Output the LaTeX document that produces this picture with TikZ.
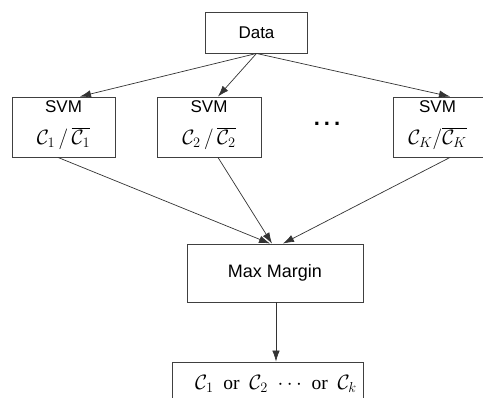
\documentclass[tikz,border=0pt]{standalone}
\usepackage{fontspec}
\setmainfont{Liberation Sans}
\newfontfamily\orfont{Liberation Serif}
\usetikzlibrary{arrows.meta,calc}
\tikzset{
  box/.style={draw=black!75, line width=0.9pt, inner sep=0pt, anchor=center},
  lbl/.style={font=\fontsize{17}{20}\selectfont, inner sep=0pt},
  mth/.style={font=\fontsize{20.5}{22}\selectfont, inner sep=0pt},
  link/.style={draw=black!80, line width=0.7pt, -{Latex[length=11pt,width=7.5pt]}}
}
\begin{document}
\begin{tikzpicture}[x=1pt,y=-1pt]
\useasboundingbox (0,0) rectangle (483,398);
\clip (0,0) rectangle (483,398);
\fill[white] (0,0) rectangle (483,398);

% top data box
\node[box, minimum width=102pt, minimum height=41pt, font=\fontsize{17}{20}\selectfont] (data) at (256.5,32.5) {Data};

% one-vs-rest SVM boxes
\node[box, minimum width=103pt, minimum height=60pt] (svm1) at (63.5,127) {};
\node[box, minimum width=104pt, minimum height=60pt] (svm2) at (209,127) {};
\node[box, minimum width=103pt, minimum height=60pt] (svm3) at (444.5,127) {};

\node[lbl] (s1) at ([yshift=-10.5pt]svm1.north) {SVM};
\node[lbl] (s2) at ([yshift=-10.5pt]svm2.north) {SVM};
\node[lbl] (s3) at ([yshift=-10.5pt]svm3.north -| 437.5,0) {SVM};
\node[mth] (c1) at ([yshift=-42pt]svm1.north) {$\mathcal{C}_1\,/\,\overline{\mathcal{C}_1}$};
\node[mth] (c2) at ([yshift=-42pt]svm2.north) {$\mathcal{C}_2\,/\,\overline{\mathcal{C}_2}$};
\node[mth] (c3) at ([yshift=-42pt]svm3.north -| 437.5,0) {$\mathcal{C}_K/\overline{\mathcal{C}_K}$};

% ellipsis between the boxes
\node[font=\fontsize{22}{24}\selectfont\bfseries, inner sep=0pt] (dots) at (327,124) {.\hspace{4pt}.\hspace{4pt}.};

% combiner
\node[box, minimum width=176pt, minimum height=58pt, font=\fontsize{18}{20}\selectfont] (mm) at (275,273) {Max Margin};

% final decision box
\node[box, minimum width=191pt, minimum height=50pt] (out) at (267.5,387) {};
\node[mth, font=\fontsize{19.5}{22}\selectfont\orfont] (res) at (276,384) {$\mathcal{C}_1$\ \ or\ \ $\mathcal{C}_2$\ \ $\cdots$\ \ or\ \ $\mathcal{C}_k$};

% connectors
\draw[link] (data.south) -- ([xshift=16.5pt]svm1.north);
\draw[link] (data.south) -- ([xshift=9pt]svm2.north);
\draw[link] (data.south) -- ([xshift=5.5pt]svm3.north);

\draw[link] ([xshift=-5.5pt]svm1.south) -- ([xshift=-5pt]mm.north);
\draw[link] ([xshift=9pt]svm2.south) -- ([xshift=-3pt]mm.north);
\draw[link] ([xshift=5.5pt]svm3.south) -- ([xshift=8pt]mm.north);

\draw[link] ([xshift=1pt]mm.south) -- ([xshift=1pt]mm.south |- out.north);
\end{tikzpicture}
\end{document}
